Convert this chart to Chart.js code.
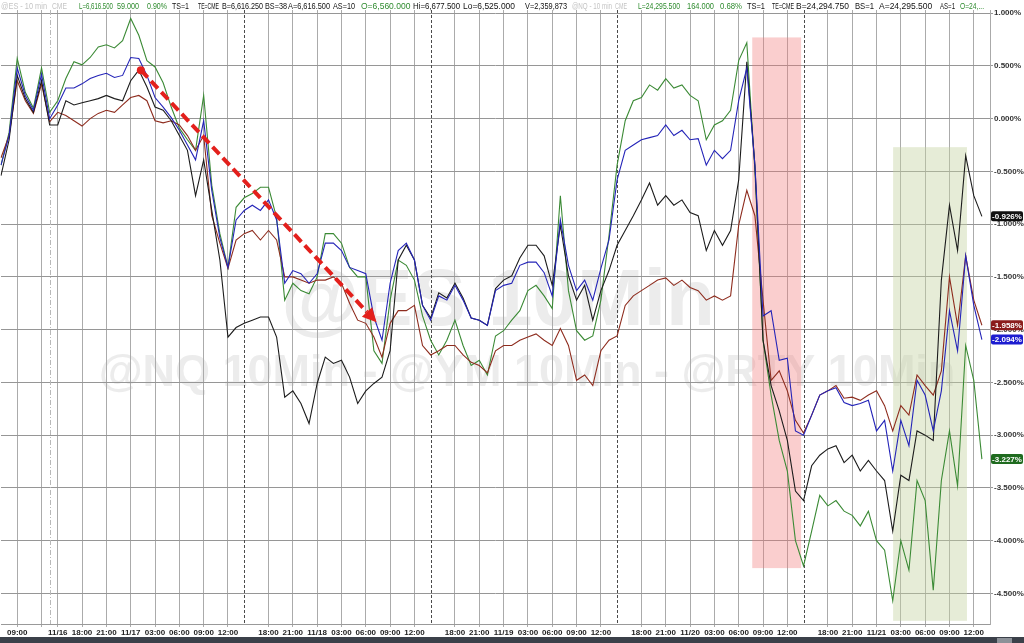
<!DOCTYPE html>
<html>
<head>
<meta charset="utf-8">
<script src="https://cdn.jsdelivr.net/npm/chart.js@4/dist/chart.umd.min.js"></script>
<style>
  html, body { margin: 0; padding: 0; background: #fff; }
  #wrap { width: 1024px; height: 643px; position: relative; }
</style>
</head>
<body>
<div id="wrap"><canvas id="chart"></canvas></div>
<script>
// trading sessions shown on the axis (day, first hour, last hour), one point per hour
const sessions = [
  ['11/14', 7, 13], ['11/16', 15, 23],
  ['11/17', 0, 13], ['11/17', 15, 23],
  ['11/18', 0, 13], ['11/18', 15, 23],
  ['11/19', 0, 13], ['11/19', 15, 23],
  ['11/20', 0, 13], ['11/20', 15, 23],
  ['11/21', 0, 14],
];

// % change, one value per hour
const nqValues = [
  -0.54, -0.20, 0.41, 0.19, 0.06, 0.36, -0.06, -0.06, 0.17, 0.13,
  0.15, 0.17, 0.19, 0.22, 0.19, 0.17, 0.36, 0.46, 0.30, 0.11,
  0.08, -0.02, -0.16, -0.30, -0.73, -0.39, -0.87, -1.34, -2.07, -1.98,
  -1.94, -1.91, -1.88, -1.88, -2.07, -2.64, -2.58, -2.70, -2.89, -2.51,
  -2.26, -2.32, -2.29, -2.45, -2.70, -2.58, -2.51, -2.45, -2.20, -1.34,
  -1.20, -1.34, -1.77, -1.89, -1.65, -1.70, -1.56, -1.70, -1.89, -1.91,
  -1.96, -1.61, -1.53, -1.49, -1.32, -1.20, -1.20, -1.30, -1.58, -1.01,
  -1.49, -1.72, -1.58, -1.91, -1.63, -1.44, -1.20, -1.06, -0.92, -0.77,
  -0.61, -0.82, -0.73, -0.82, -0.77, -0.89, -0.92, -1.25, -1.06, -1.20,
  -1.06, -0.58, 0.54, -0.44, -2.10, -2.53, -2.77, -3.05, -3.53, -3.62,
  -3.29, -3.19, -3.13, -3.10, -3.26, -3.19, -3.34, -3.24, -3.34, -3.43,
  -3.91, -3.38, -3.43, -2.96, -3.00, -3.05, -1.53, -0.82, -1.25, -0.35,
  -0.73, -0.926, null,
];
const esValues = [
  -0.44, -0.16, 0.48, 0.22, 0.08, 0.42, 0.00, 0.13, 0.29, 0.29,
  0.33, 0.38, 0.41, 0.43, 0.39, 0.41, 0.58, 0.57, 0.41, 0.20,
  0.11, 0.01, -0.11, -0.25, -0.39, -0.02, -0.68, -1.13, -1.41, -0.96,
  -0.87, -0.82, -0.87, -0.77, -0.96, -1.56, -1.44, -1.47, -1.56, -1.47,
  -1.18, -1.18, -1.25, -1.41, -1.44, -1.47, -1.88, -2.10, -1.56, -1.25,
  -1.18, -1.34, -1.77, -1.91, -1.68, -1.72, -1.58, -1.72, -1.89, -1.91,
  -1.96, -1.63, -1.58, -1.56, -1.39, -1.36, -1.36, -1.46, -1.68, -0.96,
  -1.39, -1.63, -1.53, -1.72, -1.42, -1.15, -0.58, -0.30, -0.25, -0.20,
  -0.18, -0.16, -0.06, -0.16, -0.11, -0.20, -0.19, -0.44, -0.30, -0.38,
  -0.30, 0.17, 0.48, -0.44, -1.87, -1.82, -2.29, -2.27, -2.96, -3.00,
  -2.81, -2.62, -2.58, -2.55, -2.69, -2.72, -2.70, -2.67, -2.96, -2.86,
  -3.34, -2.86, -3.10, -2.48, -2.62, -2.96, -2.58, -1.82, -2.20, -1.30,
  -1.77, -2.094, null,
];
const ymValues = [
  -0.37, -0.16, 0.36, 0.17, 0.05, 0.33, -0.03, 0.06, 0.03, -0.02,
  -0.07, 0.00, 0.05, 0.08, 0.06, 0.13, 0.20, 0.22, 0.17, -0.02,
  -0.04, -0.02, -0.06, -0.16, -0.30, -0.16, -0.92, -1.18, -1.42, -1.15,
  -1.09, -1.06, -1.15, -1.06, -1.15, -1.50, -1.50, -1.53, -1.56, -1.53,
  -1.53, -1.50, -1.56, -1.75, -1.91, -1.94, -2.07, -2.26, -1.94, -1.82,
  -1.82, -1.77, -2.15, -2.24, -2.20, -2.15, -2.15, -2.24, -2.31, -2.34,
  -2.41, -2.20, -2.15, -2.15, -2.10, -2.07, -2.04, -2.10, -2.15, -1.99,
  -2.15, -2.48, -2.43, -2.53, -2.20, -2.10, -2.06, -1.77, -1.68, -1.63,
  -1.58, -1.53, -1.51, -1.58, -1.53, -1.60, -1.63, -1.72, -1.68, -1.72,
  -1.68, -1.01, -0.68, -0.92, -1.72, -2.48, -2.39, -2.58, -2.86, -2.98,
  -2.81, -2.62, -2.58, -2.53, -2.65, -2.64, -2.67, -2.62, -2.58, -2.72,
  -2.96, -2.72, -2.81, -2.43, -2.53, -2.62, -2.39, -1.50, -1.96, -1.30,
  -1.72, -1.958, null,
];
const rtyValues = [
  -0.44, -0.13, 0.57, 0.25, 0.10, 0.48, 0.06, 0.17, 0.38, 0.54,
  0.51, 0.58, 0.68, 0.70, 0.67, 0.74, 0.95, 0.79, 0.55, 0.49,
  0.34, 0.11, -0.09, -0.20, -0.30, 0.22, -0.63, -1.09, -1.41, -0.84,
  -0.75, -0.71, -0.65, -0.65, -0.94, -1.72, -1.56, -1.63, -1.66, -1.50,
  -1.09, -1.09, -1.18, -1.41, -1.50, -1.50, -2.20, -2.32, -1.72, -1.34,
  -1.39, -1.53, -1.87, -2.10, -2.24, -2.10, -1.91, -2.15, -2.34, -2.29,
  -2.43, -2.06, -2.01, -1.91, -1.82, -1.63, -1.58, -1.68, -1.80, -0.73,
  -1.63, -2.01, -2.10, -2.06, -1.72, -1.11, -0.44, -0.02, 0.17, 0.20,
  0.32, 0.27, 0.38, 0.29, 0.32, 0.22, 0.17, -0.20, -0.06, -0.02,
  0.08, 0.55, 0.72, -0.49, -2.10, -2.62, -3.05, -3.34, -4.00, -4.24,
  -3.91, -3.57, -3.67, -3.62, -3.72, -3.76, -3.86, -3.72, -4.00, -4.09,
  -4.57, -4.00, -4.28, -3.43, -3.62, -4.47, -3.43, -2.96, -3.48, -2.15,
  -2.48, -3.227, null,
];

// y axis range and labelled ticks (%)
const yMin = -4.79;
const yMax = 1.03;
const yTicks = [1.0, 0.5, 0.0, -0.5, -1.0, -1.5, -2.0, -2.5, -3.0, -3.5, -4.0, -4.5];

const categories = [];
sessions.forEach(([day, from, to]) => {
  for (let h = from; h <= to; h++) {
    categories.push(day + ' ' + String(h).padStart(2, '0') + ':00');
  }
});

const tickText = categories.map((label) => {
  const [day, time] = label.split(' ');
  const h = parseInt(time, 10);
  if (day === '11/16' && h === 15) return day;
  if (day === '11/14' && h === 12) return '';
  if (h === 0) return day;
  if (h % 3 === 0 && h !== 15) return time;
  return '';
});
const gridOn = categories.map((label, i) => tickText[i] !== '' || label === '11/14 12:00');
const sessionBreaks = categories
  .map((label, i) => (label.endsWith('15:00') && !label.startsWith('11/16') ? i : -1))
  .filter((i) => i >= 0);
const weekendBreak = categories.indexOf('11/14 13:00');

const at = (label, frac) => categories.indexOf(label) + frac;

const zones = [
  { from: at('11/20 07:00', 0.67), to: at('11/20 13:00', 0.7), top: 0.77, bottom: -4.26, color: 'rgba(240,120,120,0.36)' },
  { from: at('11/21 02:00', 0.05), to: at('11/21 11:00', 0.16), top: -0.27, bottom: -4.76, color: 'rgba(195,210,160,0.42)' },
];
const arrow = { from: at('11/17 01:00', 0.25), fromValue: 0.46, to: at('11/18 07:00', 0.33), toValue: -1.93 };

const FONT = '"Liberation Sans", Arial, sans-serif';
const GREEN = '#2e8b2e';

const header = [
  ['@ES - 10 min', 1, 46, '#c4c4c4'], ['CME', 52, 15, '#c4c4c4'],
  ['L=6,616.500', 79, 34, GREEN], ['59.000', 117, 22, GREEN], ['0.90%', 147, 20, GREEN],
  ['TS=1', 172, 17, '#111'], ['TE=CME', 198, 21, '#111'], ['B=6,616.250', 222, 41, '#111'],
  ['BS=38', 265, 22, '#111'], ['A=6,616.500', 288, 42, '#111'], ['AS=10', 333, 22, '#111'],
  ['O=6,560.000', 361, 50, GREEN], ['Hi=6,677.500', 413, 47, '#111'], ['Lo=6,525.000', 463, 52, '#111'],
  ['V=2,359,873', 525, 42, '#111'],
  ['@NQ - 10 min', 572, 40, '#c4c4c4'], ['CME', 615, 12, '#c4c4c4'],
  ['L=24,295.500', 638, 42, GREEN], ['164.000', 687, 27, GREEN], ['0.68%', 720, 22, GREEN],
  ['TS=1', 747, 18, '#111'], ['TE=CME', 772, 22, '#111'], ['B=24,294.750', 796, 53, '#111'],
  ['BS=1', 855, 19, '#111'], ['A=24,295.500', 879, 55, '#111'], ['AS=1', 940, 15, '#111'],
  ['O=24,...', 960, 24, GREEN],
];

const extras = {
  id: 'extras',
  beforeDraw(chart) {
    const { ctx, width, height } = chart;
    ctx.save();
    ctx.fillStyle = '#fff';
    ctx.fillRect(0, 0, width, height);
    // watermarks
    ctx.fillStyle = '#ececec';
    ctx.textAlign = 'center';
    ctx.textBaseline = 'alphabetic';
    ctx.font = 'bold 80px ' + FONT;
    ctx.fillText('@ES 10Min', 498, 325);
    ctx.font = 'bold 45px ' + FONT;
    ctx.fillText('@NQ 10Min - @YM 10Min - @RTY 10Min', 527, 386);
    ctx.restore();
  },
  beforeDatasetsDraw(chart) {
    const { ctx, chartArea } = chart;
    const { x, y } = chart.scales;
    ctx.save();
    zones.forEach((z) => {
      const x0 = x.getPixelForValue(z.from);
      const x1 = x.getPixelForValue(z.to);
      const y0 = y.getPixelForValue(z.top);
      const y1 = y.getPixelForValue(z.bottom);
      ctx.fillStyle = z.color;
      ctx.fillRect(x0, y0, x1 - x0, y1 - y0);
    });
    // session breaks
    ctx.lineWidth = 1;
    ctx.strokeStyle = '#4a4a4a';
    ctx.setLineDash([3, 2]);
    sessionBreaks.forEach((i) => {
      const px = Math.round(x.getPixelForValue(i)) + 0.5;
      ctx.beginPath();
      ctx.moveTo(px, chartArea.top);
      ctx.lineTo(px, chartArea.bottom);
      ctx.stroke();
    });
    ctx.strokeStyle = '#b8b8b8';
    ctx.setLineDash([5, 2, 1, 2]);
    const wx = Math.round(x.getPixelForValue(weekendBreak)) + 0.5;
    ctx.beginPath();
    ctx.moveTo(wx, chartArea.top);
    ctx.lineTo(wx, chartArea.bottom);
    ctx.stroke();
    ctx.restore();
  },
  afterDatasetsDraw(chart) {
    const { ctx } = chart;
    const { x, y } = chart.scales;
    const p0 = { x: x.getPixelForValue(arrow.from), y: y.getPixelForValue(arrow.fromValue) };
    const p1 = { x: x.getPixelForValue(arrow.to), y: y.getPixelForValue(arrow.toValue) };
    const ang = Math.atan2(p1.y - p0.y, p1.x - p0.x);
    const head = 14;
    const bx = p1.x - head * Math.cos(ang);
    const by = p1.y - head * Math.sin(ang);
    ctx.save();
    ctx.strokeStyle = '#e3201c';
    ctx.fillStyle = '#e3201c';
    ctx.lineWidth = 4;
    ctx.setLineDash([10, 5]);
    ctx.beginPath();
    ctx.moveTo(p0.x, p0.y);
    ctx.lineTo(bx, by);
    ctx.stroke();
    ctx.setLineDash([]);
    ctx.beginPath();
    ctx.arc(p0.x, p0.y, 4, 0, Math.PI * 2);
    ctx.fill();
    ctx.beginPath();
    ctx.moveTo(p1.x, p1.y);
    ctx.lineTo(bx + 7 * Math.sin(ang), by - 7 * Math.cos(ang));
    ctx.lineTo(bx - 7 * Math.sin(ang), by + 7 * Math.cos(ang));
    ctx.closePath();
    ctx.fill();
    ctx.restore();
  },
  afterDraw(chart) {
    const { ctx, width, height } = chart;
    const { y } = chart.scales;
    ctx.save();
    // header line
    ctx.font = '8.5px ' + FONT;
    ctx.textAlign = 'left';
    ctx.textBaseline = 'alphabetic';
    header.forEach(([text, hx, w, color]) => {
      ctx.fillStyle = color;
      ctx.fillText(text, hx, 9, w);
    });
    // last value tags
    ctx.font = 'bold 8px ' + FONT;
    ctx.textAlign = 'center';
    ctx.textBaseline = 'middle';
    chart.data.datasets.forEach((ds) => {
      const vals = ds.data.filter((v) => v !== null);
      const last = vals[vals.length - 1];
      const py = y.getPixelForValue(last);
      ctx.fillStyle = ds.tagColor;
      ctx.beginPath();
      ctx.roundRect(991, py - 5, 32, 10, 2);
      ctx.fill();
      ctx.fillStyle = '#fff';
      ctx.fillText(last.toFixed(3) + '%', 1007, py + 0.5, 30);
    });
    // bottom strip
    ctx.fillStyle = '#3b4049';
    ctx.fillRect(0, 637, width, height - 637);
    ctx.fillStyle = '#8c9198';
    ctx.fillRect(997, 638, 15, height - 638);
    ctx.restore();
  },
};

const line = (label, data, color, tagColor) => ({
  label, data, tagColor,
  borderColor: color,
  borderWidth: 1.1,
  pointRadius: 0,
  tension: 0,
  fill: false,
});

new Chart(document.getElementById('chart'), {
  type: 'line',
  data: {
    labels: categories,
    datasets: [
      line('@ES', esValues, '#2424b8', '#1c1cd0'),
      line('@NQ', nqValues, '#1c1c1c', '#111111'),
      line('@YM', ymValues, '#8e2c1e', '#8b1c1c'),
      line('@RTY', rtyValues, '#3b8a35', '#1f6b1f'),
    ],
  },
  options: {
    responsive: true,
    maintainAspectRatio: false,
    animation: false,
    layout: { padding: { top: 10, left: 0, right: 0, bottom: 0 } },
    plugins: { legend: { display: false }, tooltip: { enabled: false } },
    scales: {
      x: {
        type: 'category',
        offset: false,
        grid: {
          color: (c) => (gridOn[c.index] ? '#ababab' : 'rgba(0,0,0,0)'),
          tickLength: 3,
        },
        border: { color: '#999' },
        ticks: {
          autoSkip: false,
          maxRotation: 0,
          minRotation: 0,
          padding: 1,
          color: '#222',
          font: { family: FONT, size: 8, weight: 'bold' },
          callback: (v, i) => tickText[i],
        },
        afterFit: (s) => { s.height = 19; },
      },
      y: {
        position: 'right',
        bounds: 'data',
        min: yMin,
        max: yMax,
        grid: { color: '#969696', tickLength: 3 },
        border: { color: '#aaa' },
        ticks: {
          padding: 1,
          color: '#333',
          font: { family: FONT, size: 8, weight: 'bold' },
          callback: (v) => v.toFixed(3) + '%',
        },
        afterBuildTicks: (s) => { s.ticks = yTicks.map((v) => ({ value: v })); },
        afterFit: (s) => { s.width = 34; },
      },
    },
  },
  plugins: [extras],
});
</script>
</body>
</html>
